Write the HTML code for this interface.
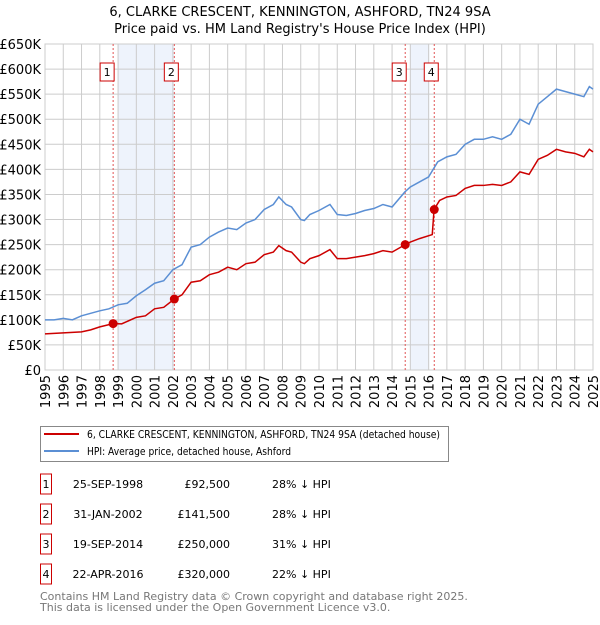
<!DOCTYPE html>
<html><head><meta charset="utf-8"><style>
body{margin:0;background:#fff;font-family:"Liberation Sans","DejaVu Sans",sans-serif;}
svg text{font-family:"DejaVu Sans","Liberation Sans",sans-serif;}
</style></head><body>
<svg id="c" width="600" height="620" xmlns="http://www.w3.org/2000/svg">
<text x="300" y="16" text-anchor="middle" font-size="13">6, CLARKE CRESCENT, KENNINGTON, ASHFORD, TN24 9SA</text>
<text x="300" y="33" text-anchor="middle" font-size="13">Price paid vs. HM Land Registry's House Price Index (HPI)</text>
<g id="plot"></g>
<rect x="40.5" y="426.5" width="408" height="35" fill="#fff" stroke="#888"/>
<line x1="44" y1="434" x2="79" y2="434" stroke="#cc0000" stroke-width="2"/>
<text x="87" y="438" font-size="11" textLength="353" lengthAdjust="spacingAndGlyphs">6, CLARKE CRESCENT, KENNINGTON, ASHFORD, TN24 9SA (detached house)</text>
<line x1="44" y1="451" x2="79" y2="451" stroke="#5b8fd4" stroke-width="2"/>
<text x="87" y="455" font-size="11" textLength="204" lengthAdjust="spacingAndGlyphs">HPI: Average price, detached house, Ashford</text>
<g id="tbl" font-size="11"></g>
<text x="40" y="600" font-size="11" fill="#777">Contains HM Land Registry data © Crown copyright and database right 2025.</text>
<text x="40" y="611" font-size="11" fill="#777">This data is licensed under the Open Government Licence v3.0.</text>
</svg>
<script>
const hpiYears=[1995,1995.5,1996,1996.5,1997,1997.5,1998,1998.5,1999,1999.5,2000,2000.5,2001,2001.5,2002,2002.5,2003,2003.5,2004,2004.5,2005,2005.5,2006,2006.5,2007,2007.5,2007.8,2008.2,2008.5,2009,2009.2,2009.5,2010,2010.6,2011,2011.5,2012,2012.5,2013,2013.5,2014,2014.7,2015,2015.5,2016,2016.5,2017,2017.5,2018,2018.5,2019,2019.5,2020,2020.5,2021,2021.5,2022,2022.5,2023,2023.5,2024,2024.5,2024.8,2025];
const hpiValues=[100,100,103,100,108,113,118,122,130,133,148,160,173,178,200,210,245,250,265,275,283,280,293,300,320,330,345,330,325,300,298,310,318,330,310,308,312,318,322,330,325,355,365,375,385,415,425,430,450,460,460,465,460,470,500,490,530,545,560,555,550,545,565,560];
const propYears=[1995,1996,1997,1997.5,1998,1998.73,1999.2,2000,2000.5,2001,2001.5,2002.08,2002.5,2003,2003.5,2004,2004.5,2005,2005.5,2006,2006.5,2007,2007.5,2007.8,2008.2,2008.5,2009,2009.2,2009.5,2010,2010.6,2011,2011.5,2012,2012.5,2013,2013.5,2014,2014.72,2015,2015.5,2016.2,2016.3,2016.6,2017,2017.5,2018,2018.5,2019,2019.5,2020,2020.5,2021,2021.5,2022,2022.5,2023,2023.5,2024,2024.5,2024.8,2025];
const propValues=[72,74,76,80,86,92.5,92,105,108,122,125,141.5,150,175,178,190,195,205,200,212,215,230,235,248,238,235,215,212,222,228,240,222,222,225,228,232,238,235,250,255,262,270,320,338,345,348,362,368,368,370,368,375,395,390,420,428,440,435,432,425,440,435];
const saleLabels=["1","2","3","4"];
const saleYears=[1998.73,2002.08,2014.72,2016.31];
const saleValues=[92.5,141.5,250,320];
const saleDates=["25-SEP-1998","31-JAN-2002","19-SEP-2014","22-APR-2016"];
const salePrices=["£92,500","£141,500","£250,000","£320,000"];
const saleDiffs=["28% ↓ HPI","28% ↓ HPI","31% ↓ HPI","22% ↓ HPI"];
const yTicks=[0,50,100,150,200,250,300,350,400,450,500,550,600,650];
const xTicks=[1995,1996,1997,1998,1999,2000,2001,2002,2003,2004,2005,2006,2007,2008,2009,2010,2011,2012,2013,2014,2015,2016,2017,2018,2019,2020,2021,2022,2023,2024,2025];
const shadeRanges=[[1999,2002.08],[2015,2016.05]];

const X0=45,X1=593,Y0=370,Y1=44;
const x=v=>X0+(v-1995)/30*(X1-X0);
const y=v=>Y0-v/650*(Y0-Y1);
const NS="http://www.w3.org/2000/svg";
const plot=document.getElementById('plot');
function mk(t,a,p){const e=document.createElementNS(NS,t);for(const k in a)e.setAttribute(k,a[k]);(p||plot).appendChild(e);return e;}
shadeRanges.forEach((r,i)=>{const e=mk('rect',{x:x(r[0]),y:Y1,width:x(r[1])-x(r[0]),height:Y0-Y1,fill:'#eef3fc'});

});
yTicks.forEach(t=>{const l=mk('line',{x1:X0,x2:X1,y1:y(t),y2:y(t),stroke:'#ccc'});


const tx=mk('text',{x:41,y:y(t)+5,'text-anchor':'end','font-size':'13'});tx.textContent=t===0?'£0':'£'+t+'K';

});
xTicks.forEach(t=>{const l=mk('line',{x1:x(t),x2:x(t),y1:Y1,y2:Y0,stroke:'#ccc'});


const tx=mk('text',{x:0,y:0,'text-anchor':'end','font-size':'13',transform:`translate(${x(t)+5},${Y0+5}) rotate(-90)`});tx.textContent=t;

});
const fr=mk('rect',{x:X0,y:Y1,width:X1-X0,height:Y0-Y1,fill:'none',stroke:'#ccc'});


saleYears.forEach((s,i)=>{const l=mk('line',{x1:x(s),x2:x(s),y1:Y1,y2:Y0,stroke:'#e05555','stroke-dasharray':'2,2'});


const bx=(i%2==0)?x(s)-5:x(s)-2;
const r=mk('rect',{x:bx-8,y:63,width:14,height:18,fill:'#fff',stroke:'#cc0000'});


const t=mk('text',{x:bx-1,y:76,'text-anchor':'middle','font-size':'11'});t.textContent=saleLabels[i];

});
const hp=mk('polyline',{points:hpiYears.map((v,i)=>x(v)+','+y(hpiValues[i])).join(' '),fill:'none',stroke:'#5b8fd4','stroke-width':1.5});


const pp=mk('polyline',{points:propYears.map((v,i)=>x(v)+','+y(propValues[i])).join(' '),fill:'none',stroke:'#cc0000','stroke-width':1.5});


saleYears.forEach((s,i)=>{const c=mk('circle',{cx:x(s),cy:y(saleValues[i]),r:4.5,fill:'#cc0000'});

});
const tbl=document.getElementById('tbl');
saleLabels.forEach((l,i)=>{const yy=483+i*30;
const r=mk('rect',{x:40.5,y:yy-9,width:11,height:20,fill:'#fff',stroke:'#cc0000'},tbl);


const cells=[[l,46,'middle'],[saleDates[i],108,'middle'],[salePrices[i],230,'end'],[saleDiffs[i],272,'start']];
cells.forEach(c=>{const t=mk('text',{x:c[1],y:yy+5,'text-anchor':c[2]},tbl);t.textContent=c[0];

});});
</script>
</body></html>
